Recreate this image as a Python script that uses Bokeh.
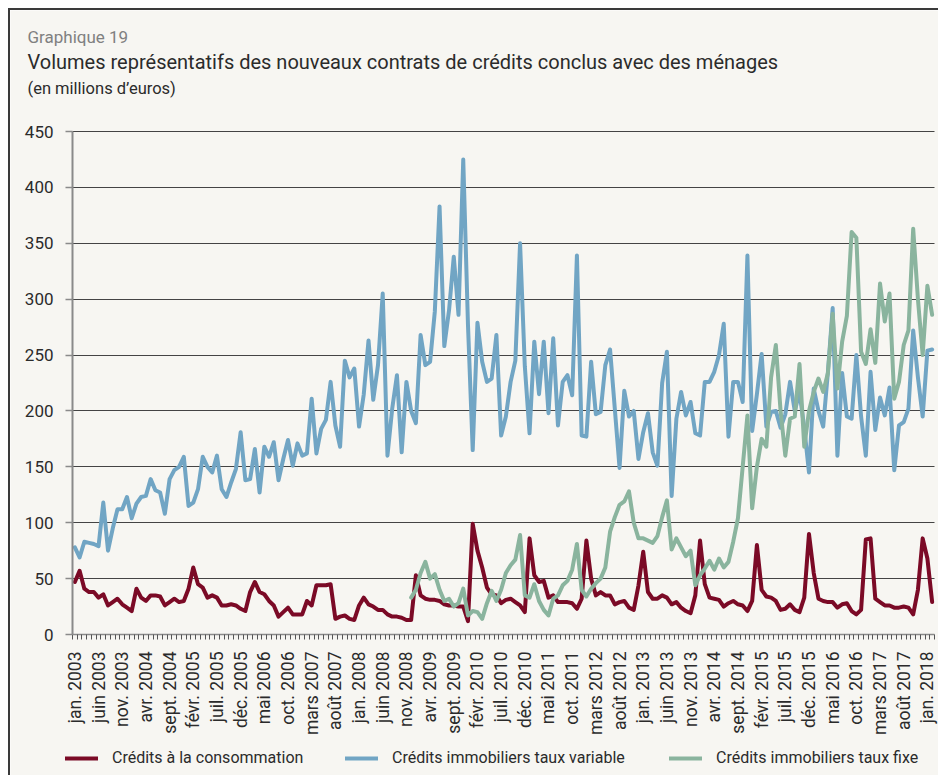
import math
from bokeh.plotting import figure
from bokeh.models import (FixedTicker, Legend, LegendItem, Label, Range1d,
                          ColumnDataSource, Grid)
from bokeh.embed import file_html
from bokeh.resources import INLINE

# ---- data (monthly, jan. 2003 = 0 ... févr. 2018 = 181) ----
consommation = [
    47, 57, 41, 38, 38, 33, 36, 26, 29, 32,
    27, 24, 21, 41, 33, 30, 35, 35, 34, 26,
    29, 32, 29, 30, 41, 60, 45, 42, 33, 35,
    33, 26, 26, 27, 26, 23, 21, 38, 47, 38,
    36, 30, 26, 16, 20, 24, 18, 18, 18, 30,
    26, 44, 44, 44, 45, 14, 16, 17, 14, 13,
    26, 33, 27, 25, 22, 22, 18, 16, 16, 15,
    13, 13, 53, 35, 32, 31, 31, 30, 27, 26,
    26, 25, 25, 12, 99, 75, 60, 42, 36, 35,
    28, 31, 32, 29, 26, 20, 86, 53, 47, 48,
    33, 35, 29, 29, 29, 28, 23, 32, 84, 50,
    35, 38, 35, 35, 27, 29, 30, 24, 22, 44,
    74, 38, 32, 32, 35, 33, 27, 29, 24, 21,
    19, 35, 84, 45, 33, 32, 31, 25, 28, 30,
    27, 26, 21, 30, 80, 40, 34, 33, 30, 22,
    23, 27, 22, 20, 33, 90, 55, 32, 30, 29,
    29, 24, 27, 28, 21, 18, 22, 85, 86, 32,
    29, 26, 26, 24, 24, 25, 24, 18, 40, 86,
    68, 29,
]
taux_variable = [
    78, 69, 83, 82, 81, 79, 118, 75, 95, 112,
    112, 123, 104, 117, 123, 124, 139, 129, 127, 108,
    139, 147, 150, 159, 115, 118, 130, 159, 150, 145,
    160, 130, 123, 136, 148, 181, 138, 139, 166, 127,
    168, 159, 172, 138, 157, 174, 151, 171, 160, 162,
    211, 162, 184, 192, 226, 187, 168, 245, 230, 238,
    186, 215, 263, 210, 241, 305, 160, 202, 232, 163,
    226, 200, 189, 268, 241, 244, 289, 383, 258, 290,
    338, 286, 425, 277, 165, 279, 244, 226, 229, 268,
    178, 195, 226, 245, 350, 240, 180, 262, 215, 262,
    198, 265, 187, 226, 232, 214, 339, 178, 177, 244,
    197, 199, 241, 255, 202, 149, 218, 195, 200, 157,
    181, 198, 163, 151, 225, 253, 124, 193, 217, 196,
    208, 180, 178, 226, 226, 235, 250, 278, 177, 226,
    226, 208, 339, 182, 215, 251, 186, 199, 200, 185,
    197, 226, 200, 217, 185, 145, 220, 200, 186, 235,
    292, 160, 234, 195, 193, 250, 195, 160, 235, 183,
    212, 196, 221, 147, 187, 190, 202, 272, 230, 195,
    254, 255,
]
fixe_start = 71  # déc. 2008
taux_fixe = [
    33, 40, 55, 65, 50, 54, 40, 30, 32,
    25, 28, 41, 17, 21, 20, 14, 28, 39, 30,
    40, 55, 62, 67, 89, 35, 33, 45, 30, 22,
    17, 32, 35, 44, 48, 58, 81, 40, 34, 41,
    46, 50, 60, 92, 105, 116, 119, 128, 100, 86,
    86, 84, 82, 88, 105, 120, 76, 86, 78, 70,
    75, 44, 53, 59, 66, 58, 68, 60, 65, 83,
    104, 150, 196, 113, 150, 175, 168, 230, 259, 200,
    160, 193, 195, 242, 168, 200, 217, 229, 217, 234,
    287, 220, 262, 285, 360, 355, 253, 242, 273, 243,
    314, 280, 305, 211, 226, 259, 272, 363, 300, 250,
    312, 286,
]
tick_labels = [
    "jan. 2003", "juin 2003", "nov. 2003", "avr. 2004", "sept. 2004", "févr. 2005",
    "juil. 2005", "déc. 2005", "mai 2006", "oct. 2006", "mars 2007", "août 2007",
    "jan. 2008", "juin 2008", "nov. 2008", "avr. 2009", "sept. 2009", "févr. 2010",
    "juil. 2010", "déc. 2010", "mai 2011", "oct. 2011", "mars 2012", "août 2012",
    "jan. 2013", "juin 2013", "nov. 2013", "avr. 2014", "sept. 2014", "févr. 2015",
    "juil. 2015", "déc. 2015", "mai 2016", "oct. 2016", "mars 2017", "août 2017",
    "jan. 2018",
]
series_names = ["Crédits à la consommation", "Crédits immobiliers taux variable",
                "Crédits immobiliers taux fixe"]
y_ticks = [0, 50, 100, 150, 200, 250, 300, 350, 400, 450]

n = len(taux_variable)
months = list(range(n))
tick_pos = list(range(0, 5 * len(tick_labels), 5))

BG = "#f7f6f2"
RED = "#7b0a26"
BLUE = "#71a5c4"
GREEN = "#8ab49e"
FONT = "Roboto"
TXT = "#2b2b2b"

# canvas geometry (pixels): the frame covers the whole canvas
W, H = 930, 767
PLOT_L, PLOT_R = 62.0, 924.0      # x pixels of the category axis ends
PLOT_B, PLOT_T = 624.0, 121.0     # y pixels of 0 and 450
step = (PLOT_R - PLOT_L) / n
ppu = (PLOT_B - PLOT_T) / 450.0
x0 = -0.5 - PLOT_L / step
x1 = -0.5 + (W - PLOT_L) / step
y0 = -(H - PLOT_B) / ppu
y1 = PLOT_B / ppu

p = figure(width=W, height=H, output_backend="svg", toolbar_location=None,
           x_range=Range1d(x0, x1), y_range=Range1d(y0, y1),
           min_border=0)
p.styles = {"margin-left": "8px", "margin-top": "8px",
            "border-top": "2px solid #3a3a3a", "border-left": "2px solid #3a3a3a"}
p.background_fill_color = BG
p.border_fill_color = BG
p.outline_line_color = None

# axes (fixed inside the frame)
xa = p.xaxis[0]
xa.fixed_location = 0
xa.bounds = (-0.5, n - 0.5)
xa.ticker = FixedTicker(ticks=tick_pos, minor_ticks=[m - 0.5 for m in range(n + 1)])
xa.major_label_overrides = {pos: lab for pos, lab in zip(tick_pos, tick_labels)}
xa.major_label_orientation = math.pi / 2
xa.major_tick_out = 0
xa.major_tick_in = 0
xa.minor_tick_out = 5
xa.minor_tick_in = 0
xa.minor_tick_line_color = "#555555"
xa.axis_line_color = "#8a8a8a"
xa.axis_line_width = 1.5
xa.major_label_standoff = 12
xa.major_label_text_font = FONT
xa.major_label_text_font_size = "17.5px"
xa.major_label_text_color = TXT

ya = p.yaxis[0]
ya.fixed_location = -0.5
ya.bounds = (0, 450)
ya.ticker = FixedTicker(ticks=y_ticks)
ya.major_tick_out = 7
ya.major_tick_in = 0
ya.minor_tick_line_color = None
ya.major_tick_line_color = "#8a8a8a"
ya.major_tick_line_width = 1.5
ya.axis_line_color = "#8a8a8a"
ya.axis_line_width = 2
ya.major_label_standoff = 12
ya.major_label_text_font = FONT
ya.major_label_text_font_size = "17px"
ya.major_label_text_color = TXT

p.xgrid.visible = False
p.ygrid.ticker = FixedTicker(ticks=[t for t in y_ticks if t > 0])
p.ygrid.grid_line_color = "#444444"
p.ygrid.grid_line_width = 1.2
if "cross_bounds" in Grid.properties():
    p.ygrid.cross_bounds = (-0.5, n - 0.5)
else:
    p.ygrid.visible = False
    p.segment(x0=-0.5, x1=n - 0.5, y0=[t for t in y_ticks if t > 0],
              y1=[t for t in y_ticks if t > 0], line_color="#444444", line_width=1.2)

src_main = ColumnDataSource(dict(x=months, cons=consommation, var=taux_variable))
src_fixe = ColumnDataSource(dict(x=list(range(fixe_start, fixe_start + len(taux_fixe))), fixe=taux_fixe))

r_red = p.line("x", "cons", source=src_main, line_color=RED, line_width=4,
               line_join="round", line_cap="round")
r_blue = p.line("x", "var", source=src_main, line_color=BLUE, line_width=4,
                line_join="round", line_cap="round")
r_green = p.line("x", "fixe", source=src_fixe, line_color=GREEN, line_width=4,
                 line_join="round", line_cap="round")

# one legend box per series, placed like the reference's bottom row
legend_x = [55, 335, 659]
for name, rend, lx in zip(series_names, [r_red, r_blue, r_green], legend_x):
    lg = Legend(items=[LegendItem(label=name, renderers=[rend])],
                location=(lx, 10), orientation="horizontal",
                glyph_width=33, glyph_height=16, label_standoff=14,
                padding=0, margin=0, border_line_alpha=0, background_fill_alpha=0,
                label_text_font=FONT, label_text_font_size="16px",
                label_text_color=TXT, label_height=16)
    p.add_layout(lg)

# titles (screen units measured from the canvas bottom-left)
p.add_layout(Label(x=17, y=H - 26, x_units="screen", y_units="screen", text="Graphique 19",
                   text_font=FONT, text_font_size="17px", text_color="#808080",
                   text_baseline="middle"))
p.add_layout(Label(x=17, y=H - 51, x_units="screen", y_units="screen",
                   text="Volumes représentatifs des nouveaux contrats de crédits conclus avec des ménages",
                   text_font=FONT, text_font_size="20px", text_color=TXT,
                   text_baseline="middle"))
p.add_layout(Label(x=17, y=H - 78, x_units="screen", y_units="screen",
                   text="(en millions d’euros)",
                   text_font=FONT, text_font_size="16.5px", text_color=TXT,
                   text_baseline="middle"))

open("out.html", "w").write(file_html(p, INLINE))
